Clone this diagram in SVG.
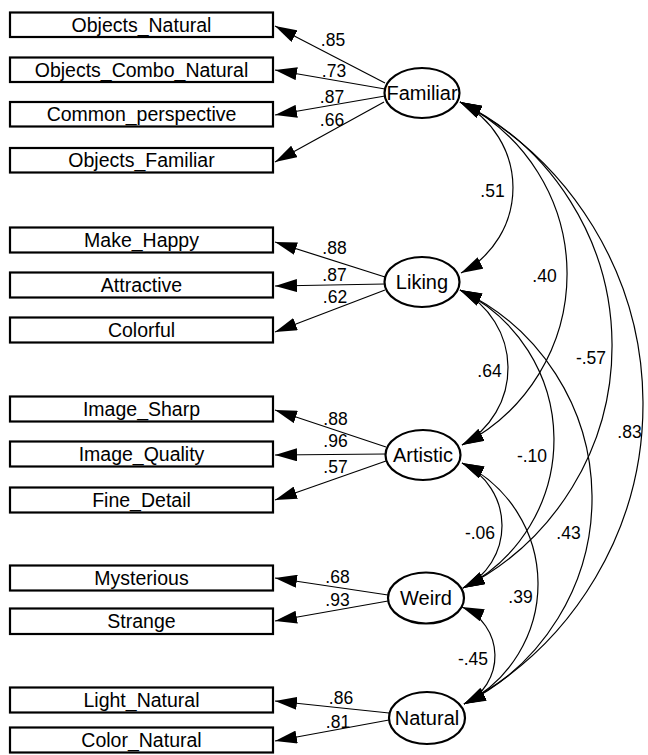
<svg xmlns="http://www.w3.org/2000/svg" width="648" height="755" viewBox="0 0 648 755">
<style>
text{font-family:"Liberation Sans",Arial,sans-serif;fill:#000}
.box{fill:#fff;stroke:#000;stroke-width:2.2}
.lat{fill:#fff;stroke:#000;stroke-width:2.2}
.bt{font-size:19.5px;text-anchor:middle}
.lt{font-size:20px;text-anchor:middle}
.w{font-size:17.5px;text-anchor:middle}
.c{fill:none;stroke:#000;stroke-width:1.2}
.p{marker-end:url(#ah)}
.d{marker-start:url(#ah);marker-end:url(#ah)}
</style>
<defs>
<marker id="ah" viewBox="0 0 22 13" refX="22" refY="6.5" markerWidth="22" markerHeight="13" markerUnits="userSpaceOnUse" orient="auto-start-reverse"><path d="M0,0 L22,6.5 L0,13 z" fill="#000"/></marker>
</defs>
<rect width="648" height="755" fill="#fff"/>

<g id="objects_natural"><rect class="box" x="10" y="12.5" width="263" height="24.5"/><text class="bt" x="141.5" y="31.5">Objects_Natural</text></g>
<g id="objects_combo_natural"><rect class="box" x="10" y="57.5" width="263" height="24.5"/><text class="bt" x="141.5" y="76.5">Objects_Combo_Natural</text></g>
<g id="common_perspective"><rect class="box" x="10" y="102" width="263" height="24.5"/><text class="bt" x="141.5" y="121">Common_perspective</text></g>
<g id="objects_familiar"><rect class="box" x="10" y="148" width="263" height="24.5"/><text class="bt" x="141.5" y="167">Objects_Familiar</text></g>

<g id="make_happy"><rect class="box" x="10" y="227.5" width="263" height="25"/><text class="bt" x="141.5" y="247">Make_Happy</text></g>
<g id="attractive"><rect class="box" x="10" y="272.5" width="263" height="25"/><text class="bt" x="141.5" y="292">Attractive</text></g>
<g id="colorful"><rect class="box" x="10" y="317.5" width="263" height="25"/><text class="bt" x="141.5" y="337">Colorful</text></g>

<g id="image_sharp"><rect class="box" x="10" y="396.5" width="263" height="25"/><text class="bt" x="141.5" y="416">Image_Sharp</text></g>
<g id="image_quality"><rect class="box" x="10" y="441.5" width="263" height="25"/><text class="bt" x="141.5" y="461">Image_Quality</text></g>
<g id="fine_detail"><rect class="box" x="10" y="487.5" width="263" height="25"/><text class="bt" x="141.5" y="507">Fine_Detail</text></g>

<g id="mysterious"><rect class="box" x="10" y="565.5" width="263" height="25"/><text class="bt" x="141.5" y="585">Mysterious</text></g>
<g id="strange"><rect class="box" x="10" y="608.5" width="263" height="25.5"/><text class="bt" x="141.5" y="628">Strange</text></g>

<g id="light_natural"><rect class="box" x="10" y="687.5" width="263" height="25"/><text class="bt" x="141.5" y="707">Light_Natural</text></g>
<g id="color_natural"><rect class="box" x="10" y="727.5" width="263" height="25"/><text class="bt" x="141.5" y="747">Color_Natural</text></g>

<g id="familiar"><ellipse class="lat" cx="422" cy="93" rx="37.5" ry="25"/><text class="lt" x="422" y="100">Familiar</text></g>
<g id="liking"><ellipse class="lat" cx="422" cy="282" rx="37.5" ry="25"/><text class="lt" x="422" y="289">Liking</text></g>
<g id="artistic"><ellipse class="lat" cx="423" cy="455" rx="37.5" ry="25"/><text class="lt" x="423" y="462">Artistic</text></g>
<g id="weird"><ellipse class="lat" cx="426" cy="598" rx="38" ry="25.5"/><text class="lt" x="426" y="605">Weird</text></g>
<g id="natural"><ellipse class="lat" cx="427" cy="718" rx="38" ry="26"/><text class="lt" x="427" y="725">Natural</text></g>

<g id="connectors">
<path class="c p" d="M385,83 L275,26"/>
<path class="c p" d="M385,89 L275,70"/>
<path class="c p" d="M385,96 L275,115"/>
<path class="c p" d="M384,102 L275,162"/>
<path class="c p" d="M385,277 L275,242"/>
<path class="c p" d="M385,284 L275,286"/>
<path class="c p" d="M385,290 L275,332"/>
<path class="c p" d="M386,447 L275,410"/>
<path class="c p" d="M386,454 L275,455"/>
<path class="c p" d="M386,461 L275,500"/>
<path class="c p" d="M388,595 L275,578"/>
<path class="c p" d="M388,601 L275,621"/>
<path class="c p" d="M389,713 L275,701"/>
<path class="c p" d="M389,720 L275,741"/>

<path class="c d" d="M460,102 A95.9,95.9 0 0 1 461,273"/>
<path class="c d" d="M460,102 A191.7,191.7 0 0 1 462,445"/>
<path class="c d" d="M460,102 A271.4,271.4 0 0 1 463,588"/>
<path class="c d" d="M460,102 A340.8,340.8 0 0 1 464,704"/>
<path class="c d" d="M460,290 A87.4,87.4 0 0 1 462,445"/>
<path class="c d" d="M460,290 A166.3,166.3 0 0 1 463,588"/>
<path class="c d" d="M460,290 A229.8,229.8 0 0 1 464,704"/>
<path class="c d" d="M462,463 A69.2,69.2 0 0 1 463,588"/>
<path class="c d" d="M462,463 A134.3,134.3 0 0 1 464,704"/>
<path class="c d" d="M462,607 A52.8,52.8 0 0 1 464,704"/>

<text class="w" x="333" y="46">.85</text>
<text class="w" x="334" y="77">.73</text>
<text class="w" x="332" y="103">.87</text>
<text class="w" x="332" y="126">.66</text>
<text class="w" x="334.5" y="254">.88</text>
<text class="w" x="334.5" y="281">.87</text>
<text class="w" x="335" y="303">.62</text>
<text class="w" x="335.5" y="425">.88</text>
<text class="w" x="335.5" y="447">.96</text>
<text class="w" x="335.5" y="473">.57</text>
<text class="w" x="337.5" y="583">.68</text>
<text class="w" x="337.5" y="606">.93</text>
<text class="w" x="341" y="704">.86</text>
<text class="w" x="338" y="728">.81</text>

<text class="w" x="492.5" y="197">.51</text>
<text class="w" x="544.5" y="282">.40</text>
<text class="w" x="591" y="364">-.57</text>
<text class="w" x="629.5" y="438">.83</text>
<text class="w" x="489.5" y="377">.64</text>
<text class="w" x="532" y="462">-.10</text>
<text class="w" x="480" y="539">-.06</text>
<text class="w" x="568.5" y="539">.43</text>
<text class="w" x="520.5" y="603">.39</text>
<text class="w" x="473" y="665">-.45</text>
</g>
</svg>
